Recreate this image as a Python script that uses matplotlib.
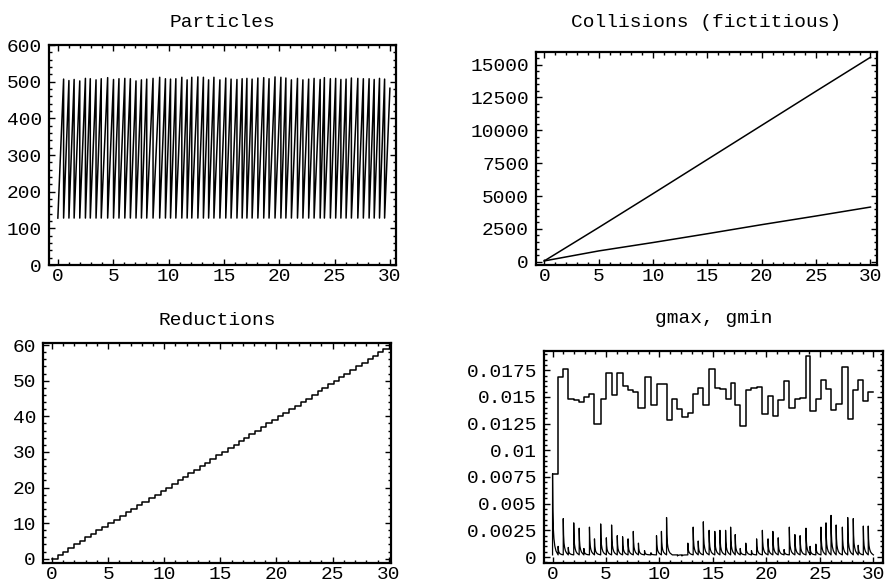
import numpy as np
import matplotlib
matplotlib.use("Agg")
import matplotlib.pyplot as plt
from matplotlib.ticker import MultipleLocator, AutoMinorLocator

plt.rcParams['font.family'] = ['Liberation Mono', 'DejaVu Sans Mono']
plt.rcParams['font.size'] = 14

reduction_times = [0.52, 1.00, 1.47, 1.98, 2.49, 2.93, 3.45, 3.92, 4.50, 5.03,
                   5.52, 6.05, 6.55, 7.06, 7.55, 8.03, 8.60, 9.20, 9.72, 10.18,
                   10.66, 11.20, 11.68, 12.10, 12.65, 13.15, 13.62, 14.10, 14.64, 15.17,
                   15.65, 16.18, 16.65, 17.08, 17.55, 18.07, 18.60, 19.08, 19.62, 20.15,
                   20.60, 21.10, 21.65, 22.14, 22.66, 23.15, 23.70, 24.08, 24.62, 25.10,
                   25.57, 26.04, 26.52, 27.10, 27.60, 28.12, 28.58, 29.06, 29.52]
t_end = 30.0

# Particles: peak reached just before each reduction, then back to the floor
particle_floor = 128
particle_peaks = [507, 503, 506, 502, 509, 508, 505, 508, 511, 506,
                  508, 509, 508, 502, 505, 507, 509, 512, 508, 507,
                  508, 512, 505, 512, 513, 512, 505, 512, 505, 510,
                  507, 506, 508, 509, 507, 510, 511, 508, 513, 512,
                  510, 505, 509, 505, 507, 509, 506, 511, 508, 509,
                  506, 507, 510, 509, 508, 508, 506, 509, 507]
particle_last = 482

# Collisions (fictitious)
coll_t = [0, 5, 10, 15, 20, 25, 30]
coll_upper = [60, 2600, 5180, 7780, 10380, 12980, 15560]
coll_lower = [60, 820, 1460, 2130, 2820, 3480, 4160]

# gmax step value on each interval [0, t1], [t1, t2], ..., [t59, 30]
gmax_vals = [0.0078, 0.0169, 0.0176, 0.0148, 0.0147, 0.0145, 0.0150, 0.0153, 0.0125, 0.0148,
             0.0172, 0.0152, 0.0172, 0.0160, 0.0156, 0.0155, 0.0140, 0.0169, 0.0142, 0.0162,
             0.0162, 0.0128, 0.0148, 0.0139, 0.0131, 0.0135, 0.0153, 0.0158, 0.0142, 0.0176,
             0.0158, 0.0157, 0.0148, 0.0163, 0.0142, 0.0123, 0.0156, 0.0158, 0.0159, 0.0134,
             0.0151, 0.0132, 0.0147, 0.0165, 0.0140, 0.0148, 0.0149, 0.0188, 0.0137, 0.0148,
             0.0166, 0.0157, 0.0138, 0.0143, 0.0178, 0.0129, 0.0156, 0.0166, 0.0146, 0.0155]

# gmin spike height at the start of each interval
gmin_peaks = [0.0078, 0.0010, 0.0036, 0.0009, 0.0032, 0.0027, 0.0008, 0.0028, 0.0017, 0.0031,
              0.0018, 0.0030, 0.0020, 0.0019, 0.0017, 0.0024, 0.0013, 0.0006, 0.0004, 0.0020,
              0.0024, 0.0037, 0.0002, 0.0001, 0.0001, 0.0013, 0.0028, 0.0015, 0.0033, 0.0025,
              0.0024, 0.0025, 0.0025, 0.0028, 0.0021, 0.0008, 0.0013, 0.0006, 0.0017, 0.0025,
              0.0017, 0.0024, 0.0018, 0.0007, 0.0028, 0.0021, 0.0020, 0.0027, 0.0010, 0.0012,
              0.0028, 0.0032, 0.0039, 0.0030, 0.0028, 0.0037, 0.0036, 0.0011, 0.0029, 0.0029]
gmin_floor = 0.0002
# shape of one spike after its start (time offset, fraction of height)
spike_dt = [0.0, 0.03, 0.07, 0.13, 0.21, 0.32]
spike_frac = [1.0, 0.55, 0.33, 0.2, 0.11, 0.05]

gm_ticks = [0, 0.0025, 0.005, 0.0075, 0.01, 0.0125, 0.015, 0.0175]
gm_labels = ['0', '0.0025', '0.005', '0.0075', '0.01', '0.0125', '0.015', '0.0175']

starts = [0.0] + reduction_times
ends = reduction_times + [t_end]


def style(ax, xmaj, xmin_n, ymaj, ymin_n):
    for s in ax.spines.values():
        s.set_linewidth(1.6)
    ax.xaxis.set_major_locator(MultipleLocator(xmaj))
    ax.xaxis.set_minor_locator(AutoMinorLocator(xmin_n))
    if ymaj is not None:
        ax.yaxis.set_major_locator(MultipleLocator(ymaj))
    ax.yaxis.set_minor_locator(AutoMinorLocator(ymin_n))
    ax.tick_params(which='both', direction='in', top=True, right=True,
                   width=1.0, labelsize=14)
    ax.tick_params(which='major', length=4)
    ax.tick_params(which='minor', length=2)
    ax.tick_params(axis='x', pad=2)
    ax.tick_params(axis='y', pad=5)


fig = plt.figure(figsize=(8.85, 5.83), dpi=100)
W, H = 885, 583


def add_axes(l, r, t, b):
    return fig.add_axes([l / W, 1 - b / H, (r - l) / W, (b - t) / H])


# Particles
ax1 = add_axes(49, 396, 45, 265)
px, py = [0.0], [particle_floor]
for t, p in zip(reduction_times, particle_peaks):
    px += [t, t]
    py += [p, particle_floor]
px.append(t_end)
py.append(particle_last)
ax1.plot(px, py, color='black', lw=1.1)
ax1.set_xlim(-0.8, 30.55)
ax1.set_ylim(0, 600)
style(ax1, 5, 5, 100, 5)
ax1.set_title('Particles', fontsize=14, pad=13)

# Collisions
ax2 = add_axes(536, 877, 52, 265)
ax2.plot(coll_t, coll_upper, color='black', lw=1.1)
ax2.plot(coll_t, coll_lower, color='black', lw=1.1)
ax2.set_xlim(-0.76, 30.6)
ax2.set_ylim(-250, 15960)
style(ax2, 5, 5, 2500, 5)
ax2.set_title('Collisions (fictitious)', fontsize=14, pad=18)

# Reductions
ax3 = add_axes(43, 391, 343, 563)
rx = [0.0] + reduction_times + [t_end]
ry = list(range(len(reduction_times) + 1)) + [len(reduction_times)]
ax3.step(rx, ry, where='post', color='black', lw=1.1)
ax3.set_xlim(-0.8, 30.2)
ax3.set_ylim(-1.2, 60.6)
style(ax3, 5, 5, 10, 5)
ax3.set_title('Reductions', fontsize=14, pad=13)

# gmax, gmin
ax4 = add_axes(544, 883, 351, 563)
gx, gy = [], []
for s, e, v in zip(starts, ends, gmax_vals):
    gx += [s, e]
    gy += [v, v]
ax4.plot(gx, gy, color='black', lw=1.1)
mx, my = [], []
for s, e, h in zip(starts, ends, gmin_peaks):
    mx.append(s)
    my.append(gmin_floor)
    for dt, f in zip(spike_dt, spike_frac):
        if s + dt < e:
            mx.append(s + dt)
            my.append(gmin_floor + (h - gmin_floor) * f)
mx.append(t_end)
my.append(gmin_floor)
ax4.plot(mx, my, color='black', lw=0.9)
ax4.set_xlim(-0.8, 30.9)
ax4.set_ylim(-0.00056, 0.0193)
style(ax4, 5, 5, None, 5)
ax4.set_yticks(gm_ticks)
ax4.set_yticklabels(gm_labels)
ax4.yaxis.set_minor_locator(AutoMinorLocator(5))
ax4.set_title('gmax, gmin', fontsize=14, pad=20)

fig.savefig('out.png', dpi=100)
